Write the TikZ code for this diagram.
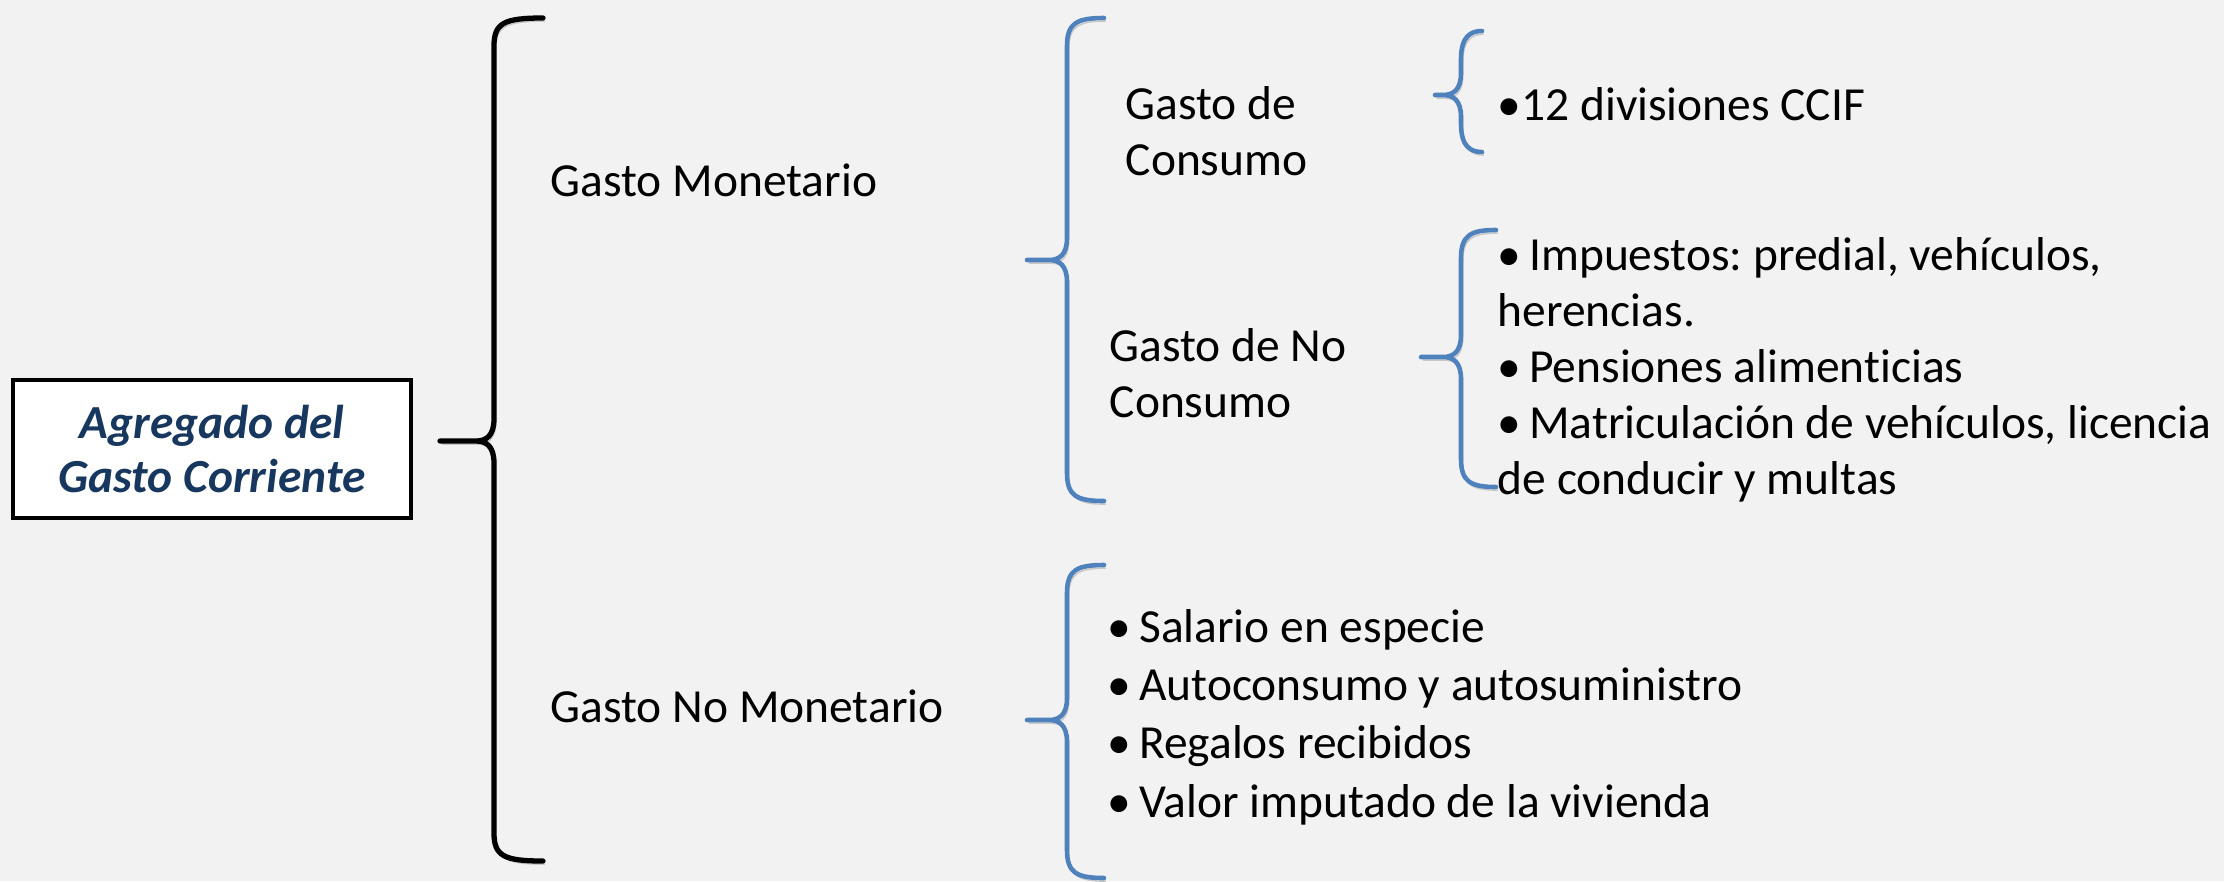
\documentclass[tikz,border=0pt]{standalone}
\usepackage{fontspec}
\setmainfont{Carlito}[Ligatures=NoCommon]
\frenchspacing

\definecolor{fondo}{HTML}{F2F2F2}
\definecolor{azulllave}{HTML}{4F81BD}
\definecolor{azultexto}{HTML}{17375E}

% llave: estilo, x vertical, y arriba, y abajo, x brazos, x punta, y punta
\newcommand{\Llave}[7]{%
  \draw[#1] (#5,#3) .. controls (#2+10,#3) and (#2,#3+5) .. (#2,#3+28)
    -- (#2,#7-22) .. controls (#2,#7-5) and (#2-8,#7) .. (#2-18,#7)
    -- (#6,#7) -- (#2-18,#7) .. controls (#2-8,#7) and (#2,#7+5) .. (#2,#7+22)
    -- (#2,#4-28) .. controls (#2,#4-5) and (#2+10,#4) .. (#5,#4);
}

\tikzset{
  texto/.style={anchor=west, inner sep=0pt, align=left,
    font=\fontsize{13.5}{15.9}\selectfont},
  lista/.style={texto, font=\fontsize{13.5}{16.6}\selectfont},
  caja/.style={draw, line width=1.1pt, fill=white, inner sep=0pt,
    minimum width=3.97cm, minimum height=1.38cm, align=center,
    text=azultexto, font=\fontsize{13.5}{15.6}\selectfont\bfseries\itshape},
  sombra/.style={preaction={draw=black!22, transform canvas={shift={(0.5pt,-0.9pt)}}}},
  llavenegra/.style={black, line width=1.5pt, line cap=round, line join=round, sombra},
  llaveazul/.style={azulllave, line width=1.3pt, line cap=round, line join=round, sombra}
}

\begin{document}
\begin{tikzpicture}[x=0.01cm, y=-0.01cm]
    \fill[fondo] (0,0) rectangle (2224,881);
    \useasboundingbox (0,0) rectangle (2224,881);

    \node[caja] (agregado) at (212,449) {Agregado del\\Gasto Corriente};

    \node[texto] (gm) at (550,180) {Gasto Monetario};
    \node[texto] (gnm) at (550,706) {Gasto No Monetario};

    \node[texto] (gc) at (1125,131) {Gasto de\\Consumo};
    \node[texto] (gnc) at (1109,373) {Gasto de No\\Consumo};

    \node[texto] (ccif) at (1497,104) {•12 divisiones CCIF};
    \node[texto] (nocons) at (1497,370) {•\,Impuestos: predial, vehículos,\\herencias.\\•\,Pensiones alimenticias\\•\,Matriculación de vehículos, licencia\\de conducir y multas};
    \node[lista] (nomon) at (1107,717) {•\,Salario en especie\\•\,Autoconsumo y autosuministro\\•\,Regalos recibidos\\•\,Valor imputado de la vivienda};

    \Llave{llavenegra}{494}{18}{861}{543}{440}{441}
    \Llave{llaveazul}{1067}{18}{501}{1104}{1027}{260}
    \Llave{llaveazul}{1461}{31}{152}{1482}{1435}{95}
    \Llave{llaveazul}{1461}{230}{487}{1496}{1421}{357}
    \Llave{llaveazul}{1067}{565}{878}{1104}{1027}{720}
\end{tikzpicture}
\end{document}
